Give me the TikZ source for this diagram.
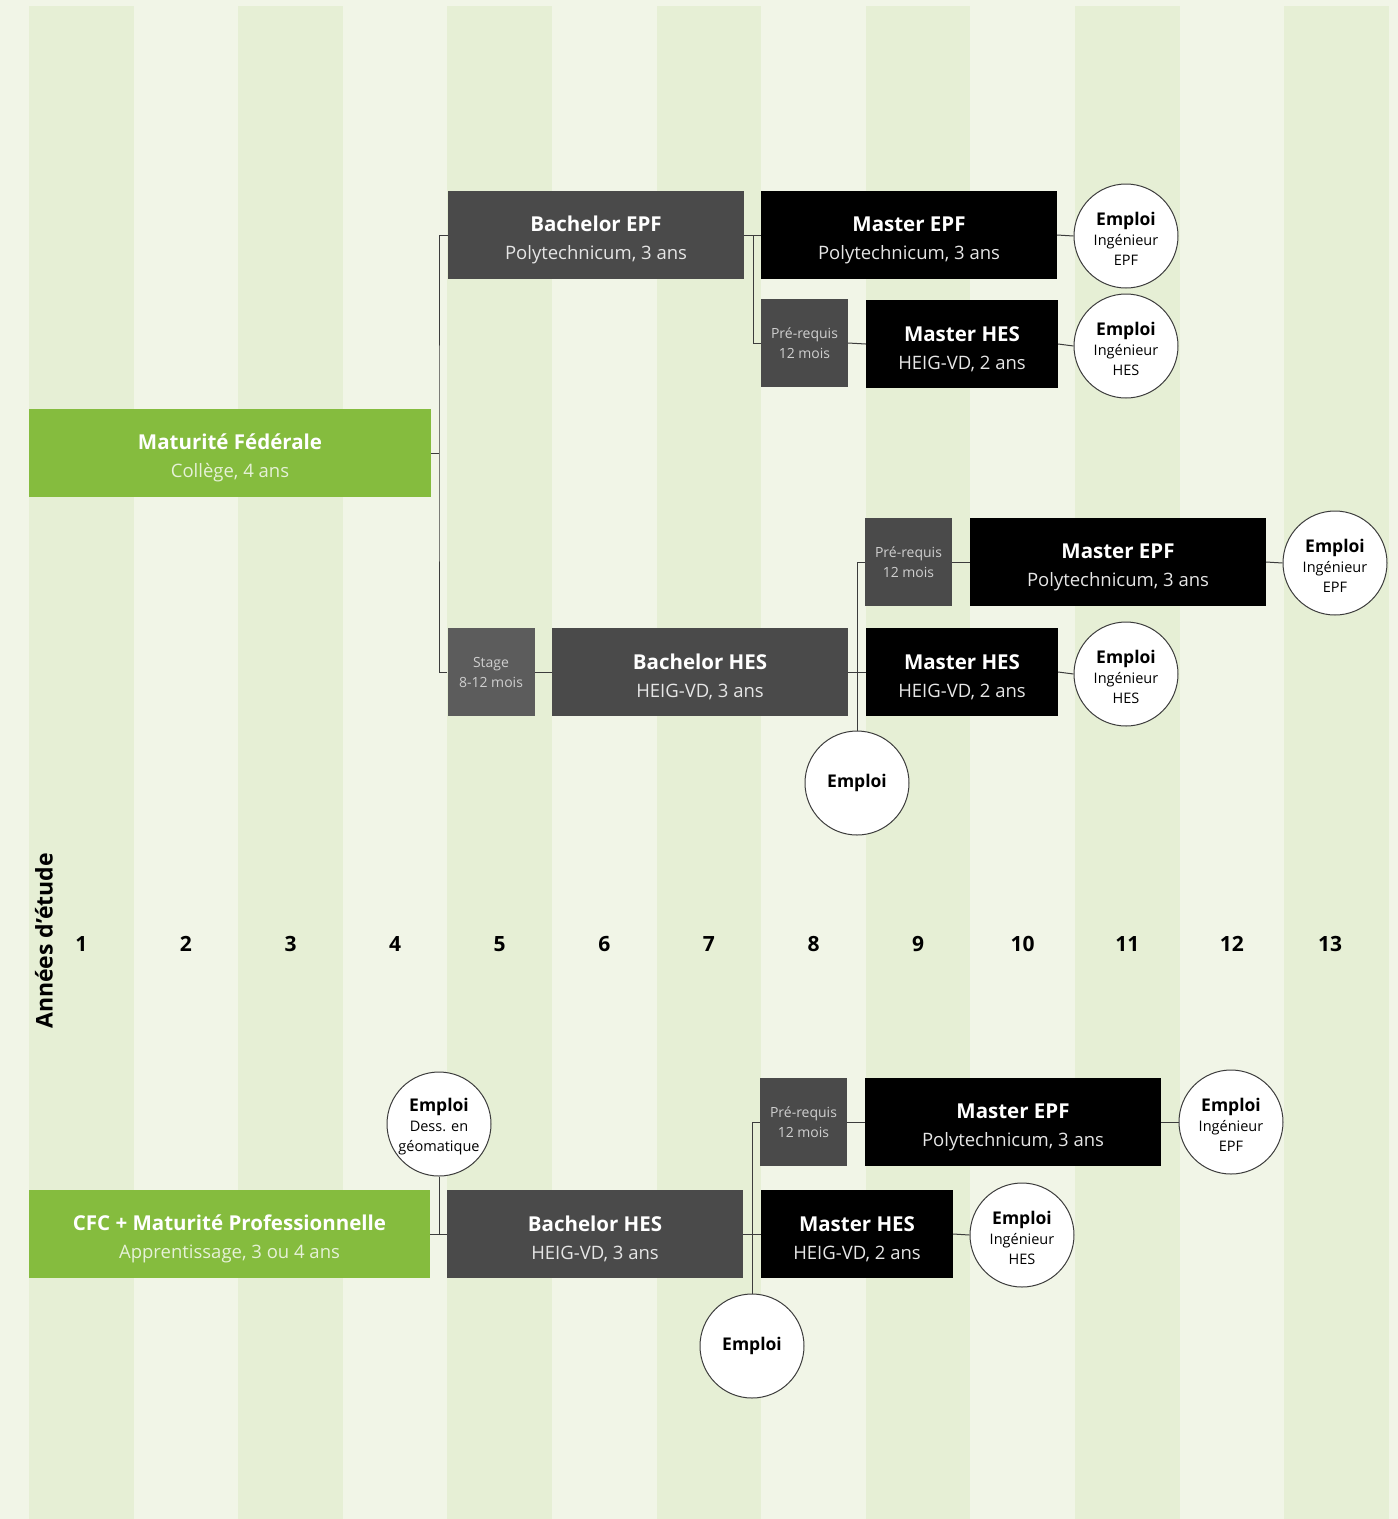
\documentclass[tikz,border=0pt]{standalone}
\usepackage{fontspec}
\setmainfont{Open Sans}
\definecolor{bgpale}{HTML}{F1F5E7}
\definecolor{bgstripe}{HTML}{E6EFD5}
\definecolor{matgreen}{HTML}{85BC3E}
\definecolor{subgreen}{HTML}{E6F1D8}
\definecolor{boxgray}{HTML}{4A4A4A}
\definecolor{stagegray}{HTML}{5C5C5C}
\definecolor{subgray}{HTML}{E6E6E6}
\definecolor{linegray}{HTML}{3C3C3C}
\newcommand{\boxlabel}[2]{{\color{white}\bfseries\fontsize{20.5}{28}\selectfont\rule{0pt}{26pt}#1}\\#2}
\newcommand{\joblabel}[2]{{\bfseries\fontsize{17.5}{21}\selectfont\rule{0pt}{19pt}Emploi}\\#1\\#2}
\tikzset{
  box/.style={minimum width=296, minimum height=88, inner sep=0pt, align=center,
    text=subgray, font=\fontsize{18.5}{28}\selectfont},
  greenbox/.style={box, fill=matgreen, text=subgreen, minimum width=402},
  bachbox/.style={box, fill=boxgray},
  mastbox/.style={box, fill=black},
  shortbox/.style={box, fill=black, minimum width=192},
  prebox/.style={box, fill=boxgray, minimum width=87, font=\fontsize{14}{20}\selectfont, text=subgray!90!black},
  job/.style={circle, draw=linegray, line width=1pt, fill=white, minimum size=104, inner sep=0pt,
    align=center, font=\fontsize{14.5}{20}\selectfont},
  link/.style={draw=linegray, line width=1pt}
}
\begin{document}
\begin{tikzpicture}[x=1pt, y=-1pt]
% fond et colonnes
\fill[bgpale] (0,0) rectangle (1398,1519);
\useasboundingbox (0,0) rectangle (1398,1519);
\foreach \k in {0,...,6}
  \fill[bgstripe] ({29+2*\k*104.6},6) rectangle ({29+(2*\k+1)*104.6},1519);
\foreach \n in {1,...,12}
  \node[font=\bfseries\fontsize{21}{21}\selectfont] (an\n) at ({29+(\n-0.5)*104.6},944) {\n};
\node[font=\bfseries\fontsize{21}{21}\selectfont] (an13) at (1330,944) {13};
\node[rotate=90, font=\bfseries\fontsize{23}{23}\selectfont] (annees) at (44,941) {Années d'étude};

% maturite federale
\node[greenbox] (mat) at (230,453) {\boxlabel{Maturité Fédérale}{Collège, 4 ans}};
\node[bachbox] (bepf) at (596,235) {\boxlabel{Bachelor EPF}{Polytechnicum, 3 ans}};
\node[mastbox] (mepfa) at (909,235) {\boxlabel{Master EPF}{Polytechnicum, 3 ans}};
\node[prebox] (prea) at (804.5,343) {Pré-requis\\12 mois};
\node[shortbox] (mhesa) at (962,344) {\boxlabel{Master HES}{HEIG-VD, 2 ans}};
\node[job] (jepfa) at (1126,236) {\joblabel{Ingénieur}{EPF}};
\node[job] (jhesa) at (1126,346) {\joblabel{Ingénieur}{HES}};

\node[prebox, fill=stagegray] (stage) at (491,672) {Stage\\8-12 mois};
\node[bachbox] (bhesb) at (700,672) {\boxlabel{Bachelor HES}{HEIG-VD, 3 ans}};
\node[prebox] (preb) at (908.5,562) {Pré-requis\\12 mois};
\node[mastbox] (mepfb) at (1118,562) {\boxlabel{Master EPF}{Polytechnicum, 3 ans}};
\node[shortbox] (mhesb) at (962,672) {\boxlabel{Master HES}{HEIG-VD, 2 ans}};
\node[job] (jepfb) at (1335,563) {\joblabel{Ingénieur}{EPF}};
\node[job] (jhesb) at (1126,674) {\joblabel{Ingénieur}{HES}};
\node[job, font=\bfseries\fontsize{17.5}{21}\selectfont] (empb) at (857,783) {Emploi};

% CFC + maturite professionnelle
\node[greenbox, minimum width=401] (cfc) at (229.5,1234) {\boxlabel{CFC + Maturité Professionnelle}{Apprentissage, 3 ou 4 ans}};
\node[job] (geo) at (439,1124) {\joblabel{Dess. en}{géomatique}};
\node[bachbox] (bhesc) at (595,1234) {\boxlabel{Bachelor HES}{HEIG-VD, 3 ans}};
\node[prebox] (prec) at (803.5,1122) {Pré-requis\\12 mois};
\node[mastbox] (mepfc) at (1013,1122) {\boxlabel{Master EPF}{Polytechnicum, 3 ans}};
\node[shortbox] (mhesc) at (857,1234) {\boxlabel{Master HES}{HEIG-VD, 2 ans}};
\node[job] (jepfc) at (1231,1122) {\joblabel{Ingénieur}{EPF}};
\node[job] (jhesc) at (1022,1235) {\joblabel{Ingénieur}{HES}};
\node[job, font=\bfseries\fontsize{17.5}{21}\selectfont] (empc) at (752,1346) {Emploi};

% liaisons
\coordinate (ja) at (439,453);
\coordinate (jb) at (753,235);
\draw[link] (mat.east) -- (ja);
\draw[link] (bepf.west) -| (ja) |- (stage.west);
\draw[link] (bepf.east) -- (mepfa.west);
\draw[link] (jb) |- (prea.west);
\draw[link] (prea.east) -- (mhesa.west);
\draw[link] (mepfa.east) -- (jepfa.west);
\draw[link] (mhesa.east) -- (jhesa.west);

\draw[link] (stage.east) -- (bhesb.west);
\draw[link] (bhesb.east) -- (mhesb.west);
\draw[link] (preb.west) -| (empb.north);
\draw[link] (preb.east) -- (mepfb.west);
\draw[link] (mepfb.east) -- (jepfb.west);
\draw[link] (mhesb.east) -- (jhesb.west);

\draw[link] (cfc.east) -- (bhesc.west);
\draw[link] (geo.south) -- (geo.south |- cfc.east);
\draw[link] (bhesc.east) -- (mhesc.west);
\draw[link] (prec.west) -| (empc.north);
\draw[link] (prec.east) -- (mepfc.west);
\draw[link] (mepfc.east) -- (jepfc.west);
\draw[link] (mhesc.east) -- (jhesc.west);
\end{tikzpicture}
\end{document}
